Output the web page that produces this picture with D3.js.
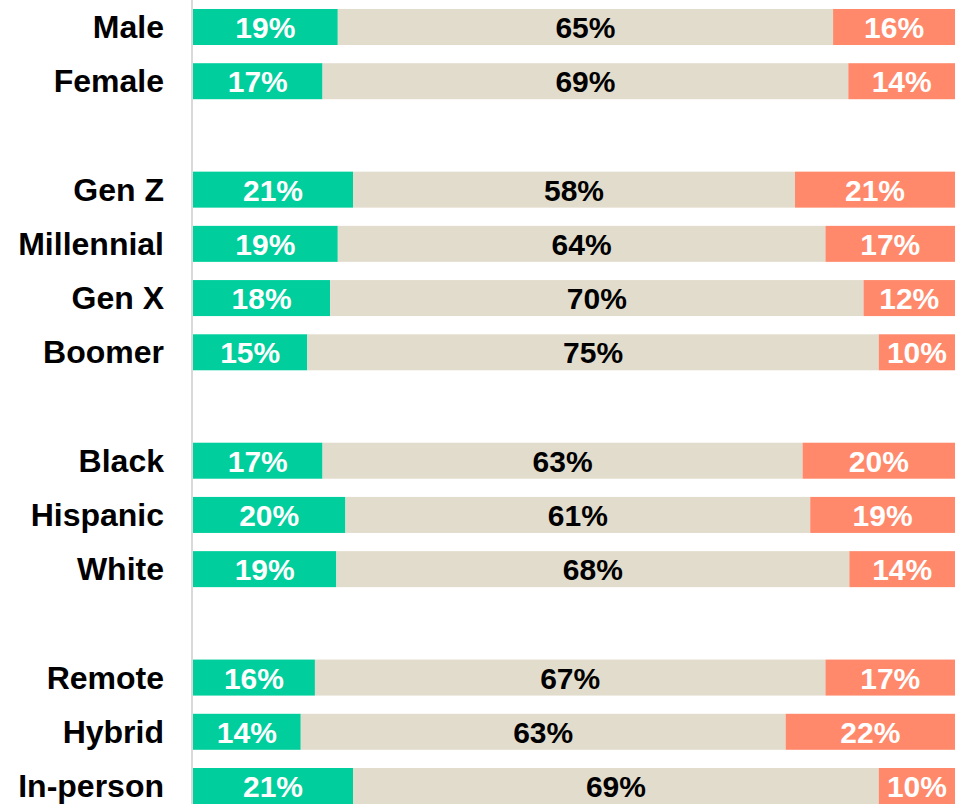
<!DOCTYPE html>
<html>
<head>
<meta charset="utf-8">
<script src="https://cdn.jsdelivr.net/npm/d3@7"></script>
<style>
  html, body { margin: 0; padding: 0; background: #fff; }
  svg { display: block; }
  text { font-family: "Liberation Sans", Arial, sans-serif; font-weight: bold; }
</style>
</head>
<body>
<svg id="chart" width="960" height="804"></svg>
<script>
// Row order; blank keys mark the spacer rows between groups
const categories = ["Male", "Female", "",
  "Gen Z", "Millennial", "Gen X", "Boomer", " ",
  "Black", "Hispanic", "White", "  ",
  "Remote", "Hybrid", "In-person"];

const positive = [19, 17, null, 21, 19, 18, 15, null, 17, 20, 19, null, 16, 14, 21];
const neutral  = [65, 69, null, 58, 64, 70, 75, null, 63, 61, 68, null, 67, 63, 69];
const negative = [16, 14, null, 21, 17, 12, 10, null, 20, 19, 14, null, 17, 22, 10];

const colors = ["#00CE9C", "#E2DCCC", "#FF896A"];
const labelColors = ["#fff", "#000", "#fff"];

const svg = d3.select("#chart");
const left = 193, right = 955;

const y = d3.scaleBand()
  .domain(categories)
  .range([9, 804])
  .paddingInner(0.336)
  .paddingOuter(0);

const rows = categories.map((c, i) => ({
  cat: c,
  vals: positive[i] == null ? null : [positive[i], neutral[i], negative[i]]
})).filter(d => d.vals);

// Category labels
svg.append("g").selectAll("text")
  .data(rows)
  .join("text")
  .attr("x", 164)
  .attr("y", d => y(d.cat) + y.bandwidth() / 2)
  .attr("dy", "0.35em")
  .attr("text-anchor", "end")
  .attr("font-size", 32)
  .attr("fill", "#000")
  .text(d => d.cat);

// Stacked segments, each row spanning the full width
const seg = svg.append("g");
rows.forEach(row => {
  const total = d3.sum(row.vals);
  const x = d3.scaleLinear().domain([0, total]).range([left, right]);
  let acc = 0;
  const parts = row.vals.map((v, k) => {
    const p = { k, v, x0: acc, x1: acc + v };
    acc += v;
    return p;
  });
  const g = seg.append("g");
  g.selectAll("rect")
    .data(parts)
    .join("rect")
    .attr("x", d => x(d.x0))
    .attr("y", y(row.cat))
    .attr("width", d => x(d.x1) - x(d.x0))
    .attr("height", y.bandwidth())
    .attr("fill", d => colors[d.k]);
  g.selectAll("text")
    .data(parts)
    .join("text")
    .attr("x", d => (x(d.x0) + x(d.x1)) / 2)
    .attr("y", y(row.cat) + y.bandwidth() / 2)
    .attr("dy", "0.37em")
    .attr("text-anchor", "middle")
    .attr("font-size", 30)
    .attr("fill", d => labelColors[d.k])
    .text(d => d.v + "%");
});

// Baseline axis line
svg.append("line")
  .attr("x1", 192).attr("x2", 192)
  .attr("y1", 0).attr("y2", 804)
  .attr("stroke", "#d9d9d9")
  .attr("stroke-width", 2);
</script>
</body>
</html>
